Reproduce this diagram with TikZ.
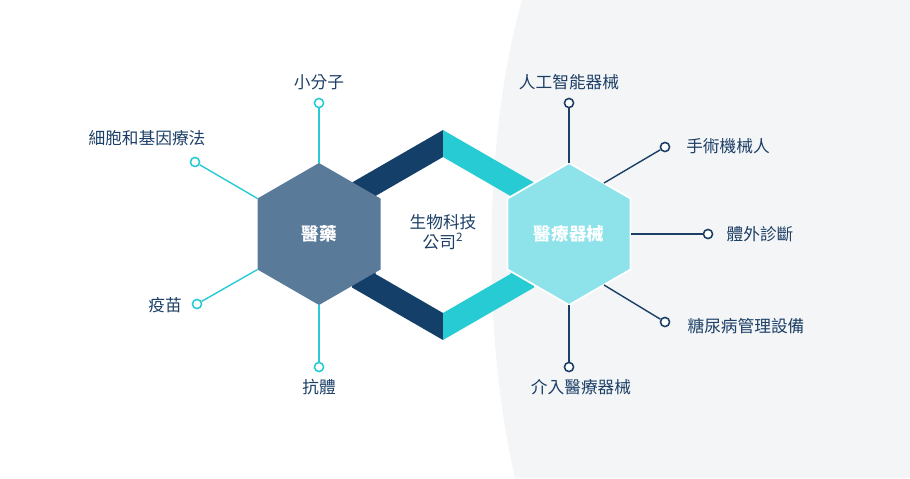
\documentclass[tikz,border=0pt]{standalone}
\usepackage{fontspec}
\setmainfont{Noto Sans CJK TC}
\begin{document}
\begin{tikzpicture}[x=0.02cm,y=-0.02cm,
  lbl/.style={font=\fontsize{9.5}{11}\selectfont, text=navy},
  hexlbl/.style={font=\fontsize{10}{12}\selectfont\bfseries, text=white},
  cdot/.style={circle,draw=#1,fill=white,line width=0.9pt,minimum size=5.2pt,inner sep=0pt},
  cline/.style={draw=#1,line width=0.8pt}]
\definecolor{navy}{HTML}{1C3F66}
\definecolor{band}{HTML}{143F69}
\definecolor{cyanb}{HTML}{27CBD3}
\definecolor{steel}{HTML}{5A7A99}
\definecolor{lcyan}{HTML}{8EE3EA}
\definecolor{bg}{HTML}{F4F5F7}
\useasboundingbox (0,0) rectangle (910,478);
\fill[bg] (522,0) .. controls (480,150) and (485,350) .. (515,478) -- (910,478) -- (910,0) -- cycle;
% band
\begin{scope}
\clip (0,0) rectangle (443,478);
\fill[band,even odd rule] (443,130)--(534,182.5)--(534,287.5)--(443,340)--(352,287.5)--(352,182.5)--cycle
 (443,157)--(510.5,196)--(510.5,274)--(443,313)--(375.5,274)--(375.5,196)--cycle;
\end{scope}
\begin{scope}
\clip (443,0) rectangle (910,478);
\fill[cyanb,even odd rule] (443,130)--(534,182.5)--(534,287.5)--(443,340)--(352,287.5)--(352,182.5)--cycle
 (443,157)--(510.5,196)--(510.5,274)--(443,313)--(375.5,274)--(375.5,196)--cycle;
\end{scope}
% left hexagon
\coordinate (lt) at (319,163); \coordinate (lul) at (257.5,198.5);
\coordinate (lll) at (257.5,269.5); \coordinate (lb) at (319,305);
\fill[steel] (lt)--(380.5,198.5)--(380.5,269.5)--(lb)--(lll)--(lul)--cycle;
\node[hexlbl] (med) at (319,234) {醫藥};
% right hexagon
\coordinate (rt) at (569,163); \coordinate (rur) at (630.5,198.5);
\coordinate (rlr) at (630.5,269.5); \coordinate (rb) at (569,305);
\coordinate (rr) at (630.5,234);
\filldraw[fill=lcyan,draw=white,line width=1pt] (rt)--(rur)--(rlr)--(rb)--(507.5,269.5)--(507.5,198.5)--cycle;
\node[hexlbl] (dev) at (569,234) {醫療器械};
\node[lbl,align=center] (bio) at (443,232) {生物科技\\公司\textsuperscript{2}};
% left connectors
\node[cdot=cyanb] (c1) at (319,103) {};
\node[cdot=cyanb] (c2) at (195,162) {};
\node[cdot=cyanb] (c3) at (197,304) {};
\node[cdot=cyanb] (c4) at (319,367) {};
\draw[cline=cyanb] (lt)--(c1); \draw[cline=cyanb] (lul)--(c2);
\draw[cline=cyanb] (lll)--(c3); \draw[cline=cyanb] (lb)--(c4);
\node[lbl] (t1) at (319,82) {小分子};
\node[lbl] (t2) at (147,138) {細胞和基因療法};
\node[lbl] (t3) at (165,305) {疫苗};
\node[lbl] (t4) at (319,387) {抗體};
% right connectors
\coordinate (ra) at (604,183); \coordinate (rc) at (604,285);
\node[cdot=navy] (d1) at (569,103) {};
\node[cdot=navy] (d2) at (665,147) {};
\node[cdot=navy] (d3) at (708,234) {};
\node[cdot=navy] (d4) at (665,322) {};
\node[cdot=navy] (d5) at (569,367) {};
\draw[cline=navy] (rt)--(d1); \draw[cline=navy] (ra)--(d2);
\draw[cline=navy] (rr)--(d3); \draw[cline=navy] (rc)--(d4);
\draw[cline=navy] (rb)--(d5);
\node[lbl] (u1) at (569,82) {人工智能器械};
\node[lbl] (u2) at (728,146) {手術機械人};
\node[lbl] (u3) at (760,234) {體外診斷};
\node[lbl] (u4) at (746,326) {糖尿病管理設備};
\node[lbl] (u5) at (581,387) {介入醫療器械};
\end{tikzpicture}
\end{document}
